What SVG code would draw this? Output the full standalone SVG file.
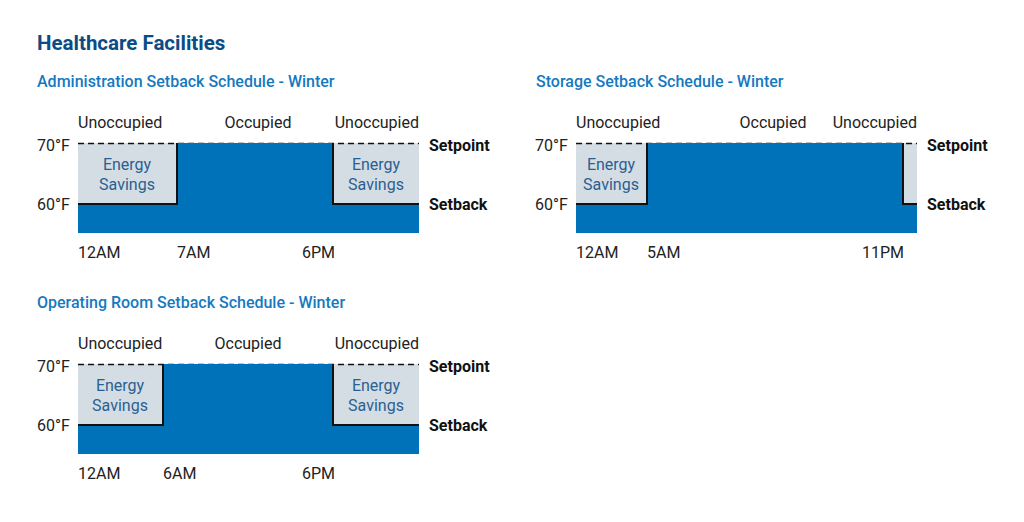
<svg xmlns="http://www.w3.org/2000/svg" width="1024" height="522" viewBox="0 0 1024 522">
<style>
text{font-family:Roboto,"Liberation Sans",sans-serif;}
.title{font-size:20.5px;font-weight:bold;fill:#0b4c86;}
.sub{font-size:16px;font-weight:500;fill:#1679c0;}
.lbl{font-size:16px;fill:#222;}
.bold{font-size:16px;font-weight:bold;fill:#111;}
.es{font-size:16px;fill:#2b5f93;text-anchor:middle;}
.blue{fill:#0072b9;}
.grey{fill:#d4dde4;}
.step{fill:none;stroke:#111;stroke-width:2;}
.dash{stroke:#111;stroke-width:1.6;stroke-dasharray:6,4;}
</style>
<rect width="1024" height="522" fill="#fff"/>
<text class="title" x="37" y="50">Healthcare Facilities</text>

<g id="admin">
<text class="sub" x="37" y="87">Administration Setback Schedule - Winter</text>
<rect class="grey" x="78" y="143" width="341" height="90"/>
<line class="dash" x1="78" y1="143.5" x2="419" y2="143.5"/>
<path class="blue" d="M78,204 H177 V143 H333 V204 H419 V233 H78 Z"/>
<path class="step" d="M78,204 H177 V143 M333,143 V204 H419"/>
<text class="es" x="127" y="170">Energy</text><text class="es" x="127" y="190">Savings</text>
<text class="es" x="376" y="170">Energy</text><text class="es" x="376" y="190">Savings</text>
<text class="lbl" x="78" y="128">Unoccupied</text>
<text class="lbl" x="258" y="128" text-anchor="middle">Occupied</text>
<text class="lbl" x="419" y="128" text-anchor="end">Unoccupied</text>
<text class="lbl" x="37" y="151">70°F</text>
<text class="lbl" x="37" y="210">60°F</text>
<text class="bold" x="429" y="151">Setpoint</text>
<text class="bold" x="429" y="210">Setback</text>
<text class="lbl" x="78" y="258">12AM</text>
<text class="lbl" x="177" y="258">7AM</text>
<text class="lbl" x="302" y="258">6PM</text>
</g>

<g id="storage">
<text class="sub" x="536" y="87">Storage Setback Schedule - Winter</text>
<rect class="grey" x="576" y="143" width="341" height="90"/>
<line class="dash" x1="576" y1="143.5" x2="917" y2="143.5"/>
<path class="blue" d="M576,204 H647 V143 H903 V204 H917 V233 H576 Z"/>
<path class="step" d="M576,204 H647 V143 M903,143 V204 H917"/>
<text class="es" x="611" y="170">Energy</text><text class="es" x="611" y="190">Savings</text>
<text class="lbl" x="576" y="128">Unoccupied</text>
<text class="lbl" x="773" y="128" text-anchor="middle">Occupied</text>
<text class="lbl" x="917" y="128" text-anchor="end">Unoccupied</text>
<text class="lbl" x="535" y="151">70°F</text>
<text class="lbl" x="535" y="210">60°F</text>
<text class="bold" x="927" y="151">Setpoint</text>
<text class="bold" x="927" y="210">Setback</text>
<text class="lbl" x="576" y="258">12AM</text>
<text class="lbl" x="647" y="258">5AM</text>
<text class="lbl" x="862" y="258">11PM</text>
</g>

<g id="operating">
<text class="sub" x="37" y="308">Operating Room Setback Schedule - Winter</text>
<rect class="grey" x="78" y="364" width="341" height="90"/>
<line class="dash" x1="78" y1="364.5" x2="419" y2="364.5"/>
<path class="blue" d="M78,425 H163 V364 H333 V425 H419 V454 H78 Z"/>
<path class="step" d="M78,425 H163 V364 M333,364 V425 H419"/>
<text class="es" x="120" y="391">Energy</text><text class="es" x="120" y="411">Savings</text>
<text class="es" x="376" y="391">Energy</text><text class="es" x="376" y="411">Savings</text>
<text class="lbl" x="78" y="349">Unoccupied</text>
<text class="lbl" x="248" y="349" text-anchor="middle">Occupied</text>
<text class="lbl" x="419" y="349" text-anchor="end">Unoccupied</text>
<text class="lbl" x="37" y="372">70°F</text>
<text class="lbl" x="37" y="431">60°F</text>
<text class="bold" x="429" y="372">Setpoint</text>
<text class="bold" x="429" y="431">Setback</text>
<text class="lbl" x="78" y="479">12AM</text>
<text class="lbl" x="163" y="479">6AM</text>
<text class="lbl" x="302" y="479">6PM</text>
</g>
</svg>
